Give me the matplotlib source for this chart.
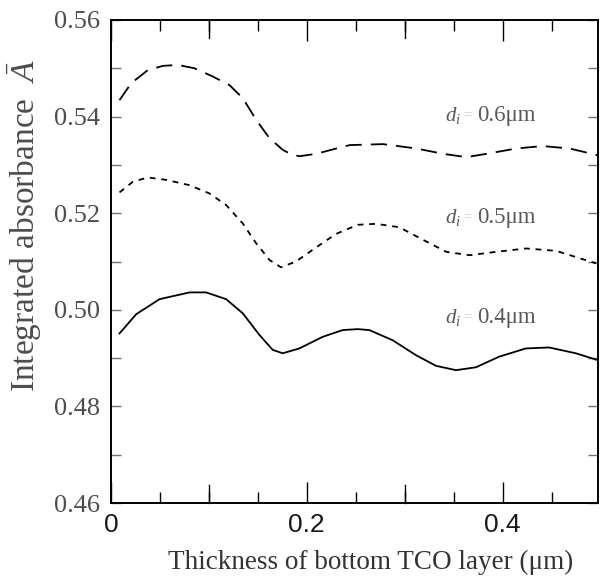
import matplotlib
matplotlib.use("Agg")
import matplotlib.pyplot as plt
from matplotlib.ticker import FixedLocator, NullFormatter

plt.rcParams['mathtext.fontset'] = 'custom'
plt.rcParams['mathtext.rm'] = 'Liberation Serif'
plt.rcParams['mathtext.it'] = 'Liberation Serif:italic'

# ---- data ----
x_06 = [0.0087, 0.0206, 0.0375, 0.0529, 0.0682, 0.0853, 0.1040, 0.1211, 0.1347, 0.1484,
        0.1620, 0.1756, 0.1850, 0.1927, 0.2098, 0.2302, 0.2439, 0.2779, 0.3119, 0.3391, 0.3630,
        0.3867, 0.4140, 0.4411, 0.4684, 0.4973]
y_06 = [0.5434, 0.5469, 0.5496, 0.5505, 0.5507, 0.5500, 0.5483, 0.5465, 0.5438, 0.5393,
        0.5355, 0.5331, 0.5321, 0.5318, 0.5323, 0.5334, 0.5341, 0.5343, 0.5334, 0.5323, 0.5316,
        0.5324, 0.5334, 0.5339, 0.5334, 0.5320]

x_05 = [0.0087, 0.0223, 0.0375, 0.0563, 0.0801, 0.1005, 0.1176, 0.1345, 0.1482, 0.1620,
        0.1737, 0.1890, 0.2094, 0.2298, 0.2520, 0.2708, 0.2944, 0.3187, 0.3425, 0.3663,
        0.3935, 0.4241, 0.4548, 0.4957]
y_05 = [0.5243, 0.5265, 0.5274, 0.5269, 0.5258, 0.5241, 0.5217, 0.5179, 0.5138, 0.5103,
        0.5088, 0.5100, 0.5129, 0.5157, 0.5176, 0.5178, 0.5171, 0.5145, 0.5120, 0.5113,
        0.5120, 0.5127, 0.5122, 0.5096]

x_04 = [0.0087, 0.0258, 0.0496, 0.0802, 0.0972, 0.1176, 0.1345, 0.1516, 0.1652, 0.1754,
        0.1924, 0.2162, 0.2366, 0.2520, 0.2639, 0.2877, 0.3116, 0.3320, 0.3524, 0.3728,
        0.3966, 0.4238, 0.4476, 0.4748, 0.4969]
y_04 = [0.4951, 0.4991, 0.5022, 0.5036, 0.5036, 0.5022, 0.4993, 0.4948, 0.4917, 0.4910,
        0.4920, 0.4944, 0.4958, 0.4960, 0.4958, 0.4937, 0.4906, 0.4884, 0.4875, 0.4881,
        0.4903, 0.4920, 0.4922, 0.4910, 0.4896]

series_labels = ["0.6μm", "0.5μm", "0.4μm"]
x_ticklabels = ["0", "0.2", "0.4"]
y_ticklabels = ["0.46", "0.48", "0.50", "0.52", "0.54", "0.56"]

fig = plt.figure(figsize=(6.0, 5.8), dpi=100)
ax = fig.add_axes([111/600, 1-503/580, 487/600, 483/580])

ax.plot(x_06, y_06, color='black', lw=1.3, dashes=(9, 5), solid_joinstyle='round')
ax.plot(x_05, y_05, color='black', lw=1.3, dashes=(3.2, 3.2), solid_joinstyle='round')
ax.plot(x_04, y_04, color='black', lw=1.3, solid_joinstyle='round')

ax.set_xlim(0, 0.4975)
ax.set_ylim(0.46, 0.56)

# x ticks
ax.xaxis.set_major_locator(FixedLocator([0, 0.2, 0.4]))
ax.set_xticklabels(x_ticklabels, fontfamily='Liberation Sans', fontsize=19, color='0.1')
ax.xaxis.set_minor_locator(FixedLocator([0.05, 0.1, 0.15, 0.25, 0.3, 0.35, 0.45]))
ax.tick_params(axis='x', which='major', direction='in', length=15, width=1.0,
               top=True, bottom=True, pad=7)
ax.tick_params(axis='x', which='minor', direction='in', length=8, width=1.0,
               top=True, bottom=True)
for xv in [0.1, 0.3]:
    ax.plot([xv, xv], [0.46, 0.46 + 0.1*18/483], color='black', lw=1.0, clip_on=False)
    ax.plot([xv, xv], [0.56, 0.56 - 0.1*18/483], color='black', lw=1.0, clip_on=False)

# y ticks
ax.yaxis.set_major_locator(FixedLocator([0.46, 0.48, 0.50, 0.52, 0.54, 0.56]))
ax.set_yticklabels(y_ticklabels, fontfamily='Liberation Serif', fontsize=19)
ax.yaxis.set_minor_locator(FixedLocator([0.47, 0.49, 0.51, 0.53, 0.55]))
ax.yaxis.set_minor_formatter(NullFormatter())
ax.tick_params(axis='y', which='both', direction='in', length=7, width=1.0,
               color='0.45', left=True, right=True, pad=8)
ax.tick_params(axis='y', which='major', labelcolor='0.3')

for s in ax.spines.values():
    s.set_linewidth(1.4)

# axis titles
fig.text(0.042, 1-226/580, r"Integrated absorbance  $\bar{A}$", rotation=90,
         ha='center', va='center', fontfamily='Liberation Serif', fontsize=24, color='0.3')
fig.text(371/600, 1-562/580, "Thickness of bottom TCO layer (μm)",
         ha='center', va='center', fontfamily='Liberation Serif', fontsize=19.5, color='0.2')

# curve labels
label_y_px = [115, 217, 317]
for lab, ypx in zip(series_labels, label_y_px):
    yf = 1 - ypx/580
    fig.text(445/600, yf, r"$d_i$", ha='left', va='center', fontsize=15, color='0.35')
    fig.text(463/600, yf, "=", ha='left', va='center', fontsize=11,
             fontfamily='Liberation Serif', color='0.8')
    fig.text(477/600, yf, lab, ha='left', va='center', fontsize=16.5,
             fontfamily='Liberation Serif', color='0.35')

fig.savefig("out.png", dpi=100)
